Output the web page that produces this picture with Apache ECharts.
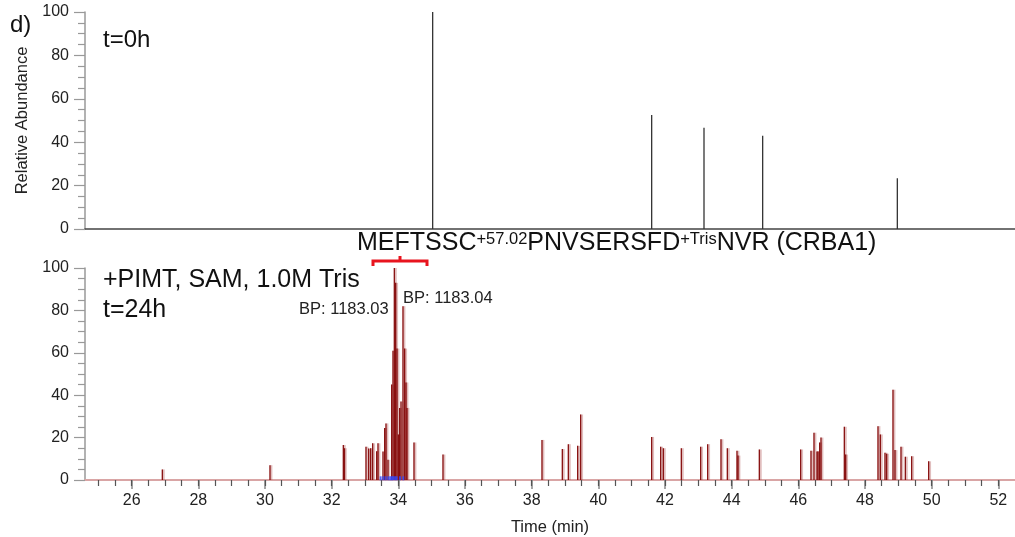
<!DOCTYPE html>
<html>
<head>
<meta charset="utf-8">
<script src="https://cdn.jsdelivr.net/npm/echarts@6/dist/echarts.min.js"></script>
<style>
html,body{margin:0;padding:0;background:#fff;}
#chart{width:1015px;height:537px;}
</style>
</head>
<body>
<div id="chart"></div>
<script>
// ---- data ----
var topTimes = [35.03, 41.60, 43.17, 44.93, 48.97];
var topHeights = [100, 52.5, 46.7, 43, 23.4];

var bottomTimes = [26.92, 30.15, 32.35, 32.38, 33.03, 33.11, 33.17, 33.23, 33.35, 33.39,
  33.54, 33.59, 33.63, 33.69, 33.80, 33.84, 33.88, 33.92, 33.96, 34.00,
  34.04, 34.08, 34.14, 34.19, 34.23, 34.26, 34.47, 35.34, 38.31, 38.92,
  39.10, 39.38, 39.47, 41.60, 41.87, 41.95, 42.49, 43.07, 43.28, 43.68,
  43.87, 44.16, 44.19, 44.83, 46.07, 46.38, 46.47, 46.56, 46.59, 46.64,
  46.68, 47.38, 47.42, 48.39, 48.46, 48.60, 48.65, 48.84, 48.90, 49.08,
  49.21, 49.40, 49.91];
var bottomHeights = [5, 7, 16.5, 15, 15.7, 14.8, 15, 17.3, 13.6, 17.3,
  13.4, 24.5, 26.7, 9.5, 45, 61, 100, 93, 62, 21.5,
  34, 37, 82, 62, 46, 34, 17.7, 12, 18.9, 14.6,
  16.9, 16.1, 30.9, 20.3, 15.7, 15, 15, 15.7, 16.9, 19.2,
  15, 13.8, 11.5, 14.4, 14.4, 13.8, 22.3, 13.5, 13.5, 17.7,
  20, 25.1, 12, 25.4, 21.5, 12.9, 12.4, 42.6, 14.1, 15.7,
  11, 11.2, 8.8];

var blueTimes = [33.47, 33.55, 33.62, 33.70, 33.76, 33.80, 33.84, 33.90, 33.95, 34.05, 34.15];
var blueHeights = [0.8, 0.8, 0.8, 0.8, 0.8, 0.8, 0.8, 0.8, 0.8, 0.8, 0.8];

var majorTicks = [26, 28, 30, 32, 34, 36, 38, 40, 42, 44, 46, 48, 50, 52];
var minorTicks = [];
for (var v = 25; v <= 52.01; v += 0.5) minorTicks.push(Math.round(v * 10) / 10);

var yTicks = [0, 20, 40, 60, 80, 100];

// ---- chart ----
function zip(a, b) { return a.map(function (x, i) { return [x, b[i]]; }); }
var FONT = '"Liberation Sans", Arial, sans-serif';
var chart = echarts.init(document.getElementById('chart'));

function yAxisCfg(idx, name) {
  return {
    type: 'value', gridIndex: idx, min: 0, max: 100, interval: 20,
    name: name, nameLocation: 'middle', nameGap: 49, nameRotate: 90,
    nameTextStyle: { fontFamily: FONT, fontSize: 16.5, color: '#222' },
    axisLine: { show: true, lineStyle: { color: '#999', width: 1.5 } },
    axisTick: { show: true, length: 11, lineStyle: { color: '#999', width: 1.2 } },
    minorTick: { show: true, splitNumber: 4, length: 7, lineStyle: { color: '#999', width: 1.2 } },
    axisLabel: { fontFamily: FONT, fontSize: 16, color: '#222', margin: 16 },
    splitLine: { show: false }
  };
}

chart.setOption({
  animation: false,
  backgroundColor: '#fff',
  grid: [
    { left: 85, top: 12, width: 930, height: 217 },
    { left: 85, top: 268, width: 930, height: 215 }
  ],
  xAxis: [
    { type: 'value', gridIndex: 0, min: 24.6, max: 52.5, position: 'bottom',
      axisLine: { show: true, lineStyle: { color: '#444', width: 1.5 } },
      axisTick: { show: false }, axisLabel: { show: false }, splitLine: { show: false } },
    { type: 'value', gridIndex: 1, min: 24.6, max: 52.5, position: 'bottom', offset: 0,
      name: 'Time (min)', nameLocation: 'middle', nameGap: 39,
      nameTextStyle: { fontFamily: FONT, fontSize: 16.5, color: '#222' },
      axisLine: { show: true, onZero: false, lineStyle: { color: '#d9a5a5', width: 2 } },
      axisTick: { show: true, customValues: majorTicks, length: 9, lineStyle: { color: '#888', width: 1.5 } },
      axisLabel: { show: true, customValues: majorTicks, fontFamily: FONT, fontSize: 16, color: '#222', margin: 13 },
      splitLine: { show: false } },
    { type: 'value', gridIndex: 1, min: 24.6, max: 52.5, position: 'bottom', offset: 0,
      axisLine: { show: false, onZero: false },
      axisTick: { show: true, inside: false, customValues: minorTicks, length: 6, lineStyle: { color: '#555', width: 1.2 } },
      axisLabel: { show: false }, splitLine: { show: false } }
  ],
  yAxis: [ yAxisCfg(0, 'Relative Abundance'), yAxisCfg(1, '') ],
  series: [
    { type: 'bar', xAxisIndex: 0, yAxisIndex: 0, data: zip(topTimes, topHeights),
      barWidth: 1.3, itemStyle: { color: '#333' }, silent: true },
    { type: 'bar', xAxisIndex: 1, yAxisIndex: 1, data: zip(bottomTimes, bottomHeights),
      barWidth: 3, barGap: '-100%', itemStyle: { color: 'rgba(170,70,70,0.35)' }, silent: true },
    { type: 'bar', xAxisIndex: 1, yAxisIndex: 1, data: zip(bottomTimes, bottomHeights),
      barWidth: 1.2, barGap: '-100%', itemStyle: { color: '#840808' }, silent: true },
    { type: 'scatter', xAxisIndex: 1, yAxisIndex: 1, data: zip(blueTimes, blueHeights), z: 5,
      symbol: 'rect', symbolSize: [2, 4], itemStyle: { color: '#3047ff' }, silent: true }
  ],
  graphic: [
    { type: 'text', x: 10, y: 25, style: { text: 'd)', font: '24px ' + FONT, fill: '#111', verticalAlign: 'middle' } },
    { type: 'text', x: 103, y: 40, style: { text: 't=0h', font: '24px ' + FONT, fill: '#111', verticalAlign: 'middle' } },
    { type: 'text', x: 357, y: 243, style: {
        text: '{a|MEFTSSC}{s|+57.02}{a|PNVSERSFD}{s|+Tris}{a|NVR (CRBA1)}',
        verticalAlign: 'middle',
        rich: {
          a: { fontFamily: FONT, fontSize: 25, lineHeight: 25, fill: '#111' },
          s: { fontFamily: FONT, fontSize: 16.5, lineHeight: 16.5, fill: '#111', verticalAlign: 'top' }
        } } },
    { type: 'polyline', shape: { points: [[373, 266], [373, 261], [427, 261], [427, 266]] },
      style: { stroke: '#e8141e', lineWidth: 3, fill: null } },
    { type: 'line', shape: { x1: 400, y1: 261, x2: 400, y2: 256 },
      style: { stroke: '#e8141e', lineWidth: 3 } },
    { type: 'text', x: 103, y: 280, style: { text: '+PIMT, SAM, 1.0M Tris', font: '25px ' + FONT, fill: '#111', verticalAlign: 'middle' } },
    { type: 'text', x: 103, y: 310, style: { text: 't=24h', font: '25px ' + FONT, fill: '#111', verticalAlign: 'middle' } },
    { type: 'text', x: 299, y: 309, style: { text: 'BP: 1183.03', font: '16.5px ' + FONT, fill: '#222', verticalAlign: 'middle' } },
    { type: 'text', x: 403, y: 298, style: { text: 'BP: 1183.04', font: '16.5px ' + FONT, fill: '#222', verticalAlign: 'middle' } }
  ]
});
</script>
</body>
</html>
